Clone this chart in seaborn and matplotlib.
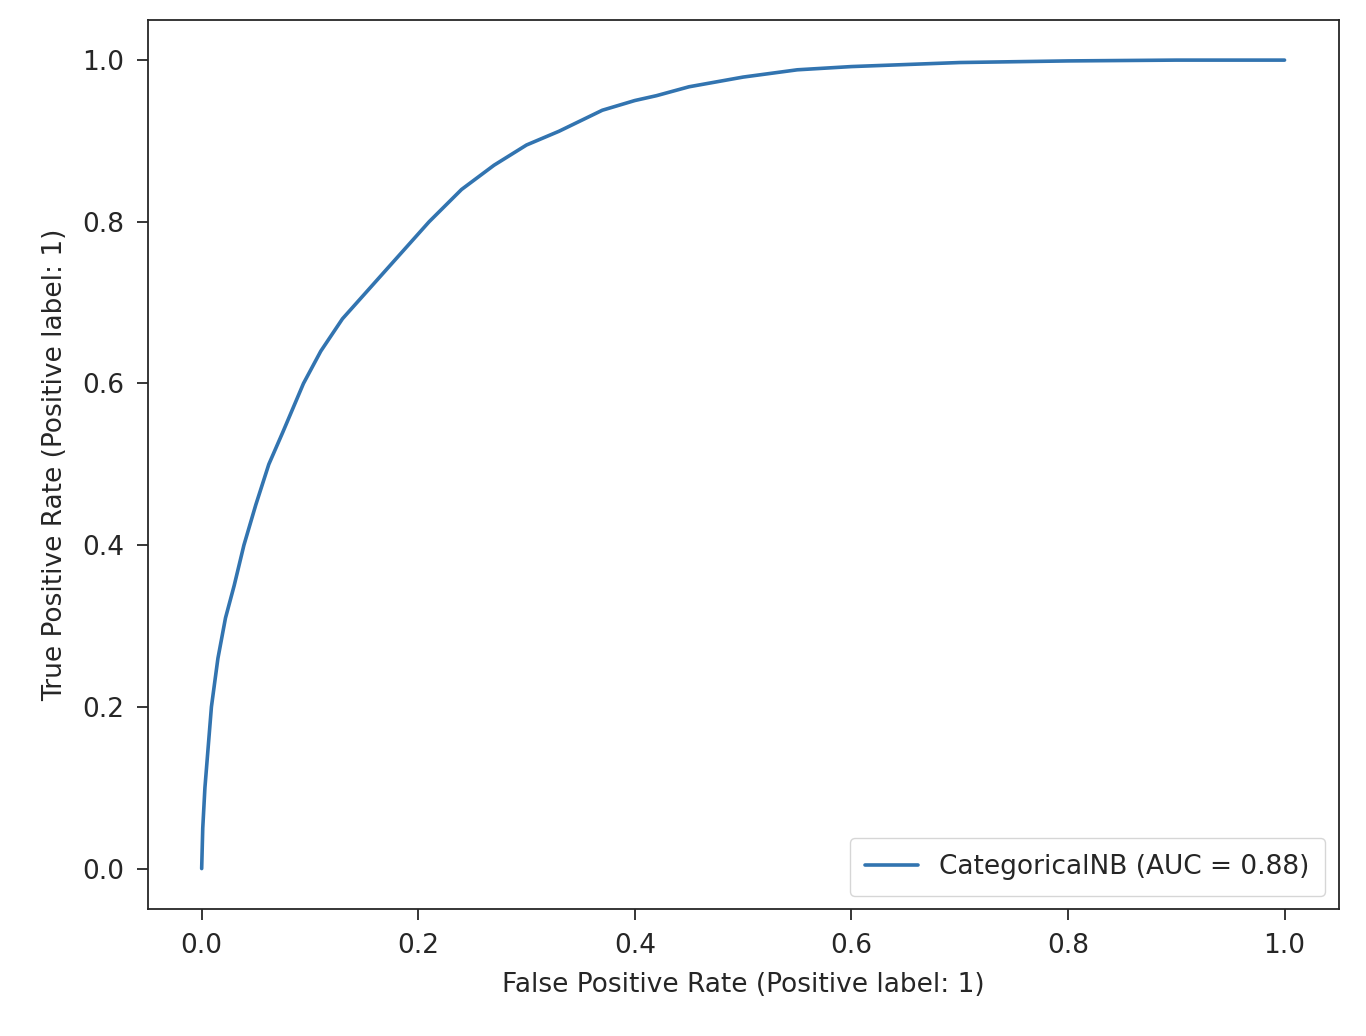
import matplotlib
matplotlib.use('Agg')
from matplotlib import pyplot as plt
import seaborn as sns
import pandas as pd

fpr = [0, 0.001, 0.003, 0.006, 0.009, 0.015, 0.022, 0.03, 0.039, 0.05, 0.062, 0.075, 0.094,
       0.11, 0.13, 0.15, 0.17, 0.19, 0.21, 0.24, 0.27, 0.30, 0.33, 0.35, 0.37, 0.40, 0.42,
       0.45, 0.50, 0.55, 0.60, 0.70, 0.80, 0.90, 1.0]
tpr = [0, 0.05, 0.1, 0.15, 0.2, 0.26, 0.31, 0.35, 0.4, 0.45, 0.5, 0.54, 0.6, 0.64, 0.68,
       0.71, 0.74, 0.77, 0.8, 0.84, 0.87, 0.895, 0.912, 0.925, 0.938, 0.95, 0.956, 0.967,
       0.979, 0.988, 0.992, 0.997, 0.999, 1.0, 1.0]
label = 'CategoricalNB (AUC = 0.88)'

sns.set_style('ticks')
plt.rcParams['font.family'] = ['DejaVu Sans']
plt.rcParams['font.size'] = 19

df = pd.DataFrame({'fpr': fpr, 'tpr': tpr})
fig = plt.figure(figsize=(13.66, 10.36), dpi=100)
ax = fig.add_axes([0.108, 0.1226, 0.872, 0.8584])
sns.lineplot(data=df, x='fpr', y='tpr', ax=ax, color='#3274b0', linewidth=2.6,
             label=label, sort=False, estimator=None)
ax.set_xlim(-0.05, 1.05)
ax.set_ylim(-0.05, 1.05)
ax.set_xticks([0, 0.2, 0.4, 0.6, 0.8, 1.0])
ax.set_yticks([0, 0.2, 0.4, 0.6, 0.8, 1.0])
ax.tick_params(labelsize=19, length=8, width=1.3, pad=9)
for s in ax.spines.values():
    s.set_linewidth(1.3)
ax.set_xlabel('False Positive Rate (Positive label: 1)', fontsize=19, labelpad=10)
ax.set_ylabel('True Positive Rate (Positive label: 1)', fontsize=19, labelpad=10)
ax.legend(loc='lower right', fontsize=19, borderpad=0.6)
fig.savefig('out.png')
